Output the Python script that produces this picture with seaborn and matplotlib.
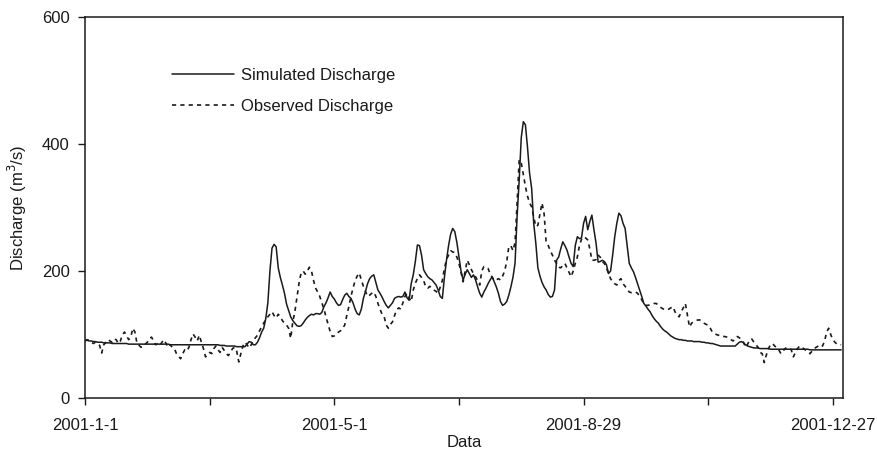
import pandas as pd
import matplotlib
matplotlib.use("Agg")
import matplotlib.pyplot as plt
from matplotlib.lines import Line2D
import seaborn as sns

# daily discharge, 2001-1-1 .. 2001-12-31
simulated = [
    91, 91, 90, 90, 89, 89, 88, 88, 88, 87,
    87, 87, 87, 86, 86, 86, 86, 86, 86, 86,
    86, 85, 85, 85, 85, 85, 85, 85, 85, 85,
    85, 85, 85, 85, 85, 85, 85, 85, 85, 85,
    85, 84, 84, 84, 84, 84, 84, 84, 84, 84,
    84, 84, 84, 84, 84, 84, 84, 84, 84, 84,
    84, 84, 84, 84, 84, 83, 83, 83, 82, 82,
    82, 82, 82, 81, 81, 81, 81, 81, 85, 89,
    88, 84, 84, 88, 95, 104, 110, 125, 150, 200,
    236, 242, 238, 205, 190, 178, 165, 148, 138, 128,
    122, 118, 114, 113, 114, 118, 123, 127, 130, 132,
    131, 133, 133, 132, 135, 144, 150, 158, 167, 160,
    156, 150, 146, 147, 155, 162, 165, 160, 157, 150,
    140, 133, 131, 140, 157, 168, 180, 188, 192, 194,
    182, 170, 165, 159, 152, 146, 142, 146, 150, 157,
    159, 160, 159, 160, 167, 158, 154, 180, 194, 215,
    241, 240, 225, 202, 196, 191, 188, 186, 182, 178,
    170, 160, 157, 190, 217, 240, 258, 267, 262, 245,
    222, 200, 186, 195, 202, 196, 190, 194, 186, 175,
    165, 159, 167, 173, 180, 186, 191, 183, 175, 165,
    152, 146, 148, 152, 162, 175, 190, 212, 286, 343,
    410, 435, 430, 395, 354, 330, 275, 244, 205, 192,
    182, 175, 170, 163, 159, 160, 170, 217, 222, 235,
    246, 240, 233, 222, 212, 207, 240, 254, 251, 252,
    275, 286, 265, 278, 288, 265, 244, 214, 215, 217,
    215, 210, 196, 200, 225, 254, 275, 291, 287, 275,
    267, 240, 212, 205, 199, 190, 180, 170, 160, 149,
    145, 140, 136, 130, 125, 121, 118, 113, 109, 106,
    104, 101, 98, 96, 94, 93, 92, 92, 91, 91,
    90, 90, 90, 89, 89, 89, 89, 88, 88, 87,
    87, 86, 86, 85, 84, 83, 82, 82, 82, 82,
    82, 82, 82, 82, 85, 88, 89, 87, 84, 82,
    81, 80, 79, 79, 79, 78, 78, 78, 78, 78,
    77, 77, 77, 77, 77, 77, 77, 77, 77, 77,
    77, 77, 77, 77, 77, 77, 77, 77, 77, 76,
    76, 76, 76, 76, 76, 76, 76, 76, 76, 76,
    76, 76, 76, 76, 76,
]

observed = [
    90, 92, 91, 88, 86, 88, 85, 83, 71, 84,
    88, 92, 90, 88, 93, 92, 86, 90, 100, 104,
    98, 92, 96, 110, 104, 86, 83, 80, 82, 85,
    88, 94, 96, 90, 84, 86, 83, 88, 92, 86,
    80, 84, 80, 78, 70, 66, 62, 70, 76, 74,
    80, 92, 101, 96, 90, 99, 88, 78, 65, 68,
    72, 70, 78, 82, 76, 72, 80, 75, 70, 67,
    72, 78, 80, 74, 57, 70, 82, 88, 84, 79,
    84, 90, 95, 99, 106, 112, 118, 124, 128, 132,
    136, 130, 126, 132, 128, 122, 118, 115, 110, 94,
    120, 136, 158, 181, 197, 200, 195, 200, 206, 200,
    185, 173, 167, 160, 150, 140, 128, 116, 105, 97,
    98, 100, 104, 106, 110, 115, 130, 144, 160, 173,
    185, 192, 197, 186, 176, 168, 160, 162, 165, 167,
    160, 149, 140, 132, 128, 115, 110, 116, 120, 130,
    139, 142, 140, 150, 160, 165, 158, 152, 170, 181,
    188, 194, 190, 185, 175, 173, 176, 172, 170, 168,
    165, 175, 185, 204, 218, 225, 232, 230, 229, 222,
    212, 198, 183, 200, 217, 210, 202, 196, 191, 185,
    178, 200, 207, 205, 204, 196, 190, 185, 186, 188,
    186, 192, 200, 215, 238, 240, 232, 245, 307, 375,
    370, 352, 333, 318, 307, 301, 285, 270, 272, 290,
    307, 290, 244, 240, 232, 225, 217, 212, 206, 205,
    209, 212, 205, 198, 191, 200, 212, 222, 240, 250,
    254, 252, 249, 235, 217, 217, 218, 225, 222, 215,
    212, 205, 196, 188, 183, 180, 178, 185, 188, 180,
    176, 172, 167, 166, 167, 167, 165, 160, 155, 148,
    146, 146, 147, 148, 149, 149, 146, 143, 141, 139,
    139, 140, 142, 144, 136, 130, 128, 136, 142, 149,
    130, 112, 118, 120, 122, 123, 123, 121, 118, 116,
    115, 110, 104, 102, 100, 99, 97, 97, 97, 96,
    94, 92, 90, 93, 97, 95, 92, 88, 80, 85,
    92, 93, 88, 84, 80, 72, 70, 56, 68, 78,
    84, 86, 82, 80, 76, 70, 74, 78, 80, 79,
    76, 65, 72, 78, 82, 80, 78, 75, 72, 70,
    74, 78, 80, 82, 80, 82, 89, 104, 110, 100,
    92, 88, 85, 85, 84,
]

tick_days = [0, 120, 240, 360]
tick_labels = ['2001-1-1', '2001-5-1', '2001-8-29', '2001-12-27']
minor_days = [60, 180, 300]

df = pd.DataFrame({'day': range(len(simulated)),
                   'Simulated Discharge': simulated,
                   'Observed Discharge': observed})

sns.set_style('ticks')
plt.rcParams['font.family'] = ['Liberation Sans', 'DejaVu Sans']

fig, ax = plt.subplots(figsize=(8.77, 4.54), dpi=100)
fig.subplots_adjust(left=0.097, right=0.961, top=0.963, bottom=0.123)

ink = '#1a1a1a'
sns.lineplot(data=df, x='day', y='Simulated Discharge', ax=ax,
             color=ink, lw=1.1)
sns.lineplot(data=df, x='day', y='Observed Discharge', ax=ax,
             color=ink, lw=1.2, linestyle=(0, (2.5, 2.5)))

ax.set_xlim(0, 364.8)
ax.set_ylim(0, 600)
ax.set_yticks([0, 200, 400, 600])
ax.set_xticks(tick_days)
ax.set_xticklabels(tick_labels)
ax.set_xticks(minor_days, minor=True)
ax.tick_params(axis='both', which='both', direction='out', length=5,
               width=1, colors=ink, labelsize=12)
ax.tick_params(axis='x', pad=9)
ax.tick_params(axis='y', pad=6)
for s in ax.spines.values():
    s.set_visible(True)
    s.set_color(ink)
    s.set_linewidth(1.1)

ax.set_xlabel('Data', fontsize=12, color=ink, labelpad=2)
ax.set_ylabel('Discharge (m$^3$/s)', fontsize=12, color=ink, labelpad=9)

handles = [Line2D([], [], color=ink, lw=1.1),
           Line2D([], [], color=ink, lw=1.2, linestyle=(0, (2.5, 2.5)))]
ax.legend(handles, ['Simulated Discharge', 'Observed Discharge'],
          loc='upper left', bbox_to_anchor=(0.095, 0.905), frameon=False,
          fontsize=12, handlelength=3.7, handletextpad=0.45,
          labelspacing=0.95, labelcolor=ink)

fig.savefig('out.png', dpi=100)
